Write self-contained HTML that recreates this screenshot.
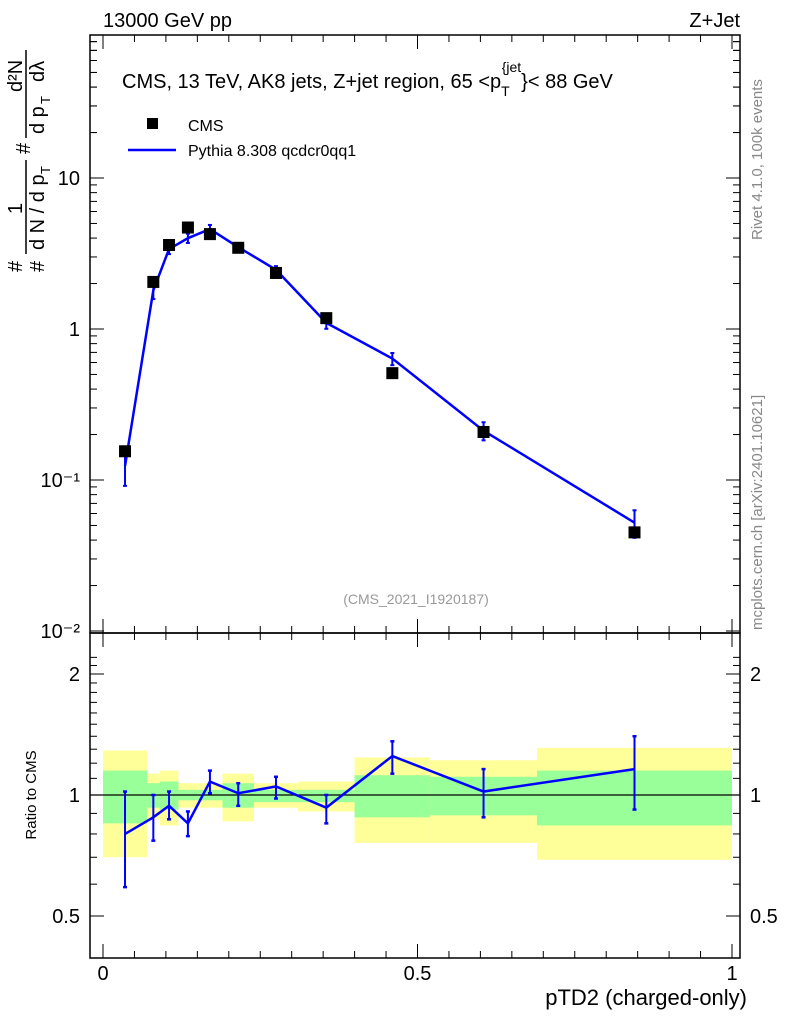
<!DOCTYPE html>
<html><head><meta charset="utf-8"><style>
body{margin:0;background:#fff}
svg{display:block;font-family:"Liberation Sans",Arial,sans-serif}
</style></head><body>
<svg id="c" width="786" height="1024" viewBox="0 0 786 1024"></svg>
<script>
const edges=[0,0.07,0.09,0.12,0.15,0.19,0.24,0.31,0.40,0.52,0.69,1.0];
const xCenters=[0.035,0.08,0.105,0.135,0.17,0.215,0.275,0.355,0.46,0.605,0.845];
const cmsVals=[0.155,2.05,3.6,4.7,4.25,3.45,2.35,1.18,0.51,0.208,0.045];
const ratioVals=[0.80,0.88,0.94,0.85,1.08,1.01,1.05,0.93,1.25,1.02,1.16];
const ratioHi=[1.02,1.0,1.02,0.91,1.15,1.07,1.11,1.0,1.36,1.16,1.40];
const ratioLo=[0.59,0.77,0.87,0.79,1.01,0.94,0.98,0.85,1.13,0.88,0.92];
const yellowHi=[1.29,1.13,1.15,1.07,1.07,1.13,1.07,1.08,1.24,1.22,1.31];
const yellowLo=[0.70,0.87,0.84,0.93,0.93,0.86,0.93,0.91,0.76,0.76,0.69];
const greenHi=[1.15,1.07,1.08,1.03,1.03,1.07,1.03,1.03,1.12,1.11,1.15];
const greenLo=[0.85,0.93,0.92,0.97,0.97,0.93,0.96,0.96,0.88,0.89,0.84];
const yTicksMain=[0.01,0.1,1,10];
const xTickVals=[0,0.5,1];
const ratioTicks=[0.5,1,2];

const NS="http://www.w3.org/2000/svg";
const svg=document.getElementById('c');
function el(t,a,p){const e=document.createElementNS(NS,t);for(const k in a)e.setAttribute(k,a[k]);(p||svg).appendChild(e);return e;}
const L=90,R=740,T=35,MB=633,RB=958;
const X=v=>103+629*v;
const Y=v=>329-151*Math.log10(v);
const YR=r=>795-121*Math.log2(r);

for(let i=0;i<xCenters.length;i++){
  let e=el('rect',{x:X(edges[i]),y:YR(yellowHi[i]),width:X(edges[i+1])-X(edges[i]),height:YR(yellowLo[i])-YR(yellowHi[i]),fill:'#ffff99'});
  
  
  let g=el('rect',{x:X(edges[i]),y:YR(greenHi[i]),width:X(edges[i+1])-X(edges[i]),height:YR(greenLo[i])-YR(greenHi[i]),fill:'#99ff99'});
  
  
}
el('line',{x1:L,x2:R,y1:YR(1),y2:YR(1),stroke:'#000','stroke-width':1.2});

el('rect',{x:L,y:T,width:R-L,height:MB-T,fill:'none',stroke:'#000','stroke-width':1.5});
el('rect',{x:L,y:MB,width:R-L,height:RB-MB,fill:'none',stroke:'#000','stroke-width':1.5});

for(let d=-2;d<=1;d++){
  for(let m=1;m<10;m++){
    const v=m*Math.pow(10,d); const y=Y(v);
    if(y<T||y>MB) continue;
    const len=m==1?14:7;
    el('line',{x1:L,x2:L+len,y1:y,y2:y,stroke:'#000'});
    el('line',{x1:R,x2:R-len,y1:y,y2:y,stroke:'#000'});
  }
}
for(let m=2;m<10;m++){const y=Y(10*m);if(y>T){el('line',{x1:L,x2:L+7,y1:y,y2:y,stroke:'#000'});el('line',{x1:R,x2:R-7,y1:y,y2:y,stroke:'#000'});}}
const ylab=['10\u207B\u00B2','10\u207B\u00B9','1','10'];
yTicksMain.forEach((v,i)=>{
  const t=el('text',{x:80,y:Y(v)+7,'text-anchor':'end','font-size':20});
  t.textContent=ylab[i];
  
  
});
for(let r=0.5;r<=2.3;r+=0.1){
  const y=YR(r); if(y<MB||y>RB) continue;
  const major=ratioTicks.some(t=>Math.abs(t-r)<1e-6);
  const len=major?14:7;
  el('line',{x1:L,x2:L+len,y1:y,y2:y,stroke:'#000'});
  el('line',{x1:R,x2:R-len,y1:y,y2:y,stroke:'#000'});
}
ratioTicks.forEach(v=>{
  const a=el('text',{x:80,y:YR(v)+7,'text-anchor':'end','font-size':20});a.textContent=String(v);
  
  
  const b=el('text',{x:750,y:YR(v)+7,'font-size':20});b.textContent=String(v);
  
  
});
for(let i=0;i<=20;i++){
  const v=i*0.05;const x=X(v);const len=i%10==0?14:7;
  el('line',{x1:x,x2:x,y1:RB,y2:RB-len,stroke:'#000'});
  el('line',{x1:x,x2:x,y1:MB,y2:MB+len,stroke:'#000'});
  el('line',{x1:x,x2:x,y1:MB,y2:MB-len,stroke:'#000'});
  el('line',{x1:x,x2:x,y1:T,y2:T+len,stroke:'#000'});
}
xTickVals.forEach(v=>{
  const t=el('text',{x:X(v),y:980,'text-anchor':'middle','font-size':20});t.textContent=String(v);
  
  
});

const mcVals=cmsVals.map((c,i)=>c*ratioVals[i]);
let pts=xCenters.map((x,i)=>X(x)+','+Y(mcVals[i])).join(' ');
let ml=el('polyline',{points:pts,fill:'none',stroke:'#0000ff','stroke-width':2.5});


xCenters.forEach((x,i)=>{
  const hi=cmsVals[i]*ratioHi[i],lo=cmsVals[i]*ratioLo[i];
  el('line',{x1:X(x),x2:X(x),y1:Y(hi),y2:Y(lo),stroke:'#0000ff','stroke-width':2});
  el('line',{x1:X(x)-2,x2:X(x)+2,y1:Y(hi),y2:Y(hi),stroke:'#0000ff','stroke-width':2});
  el('line',{x1:X(x)-2,x2:X(x)+2,y1:Y(lo),y2:Y(lo),stroke:'#0000ff','stroke-width':2});
});
xCenters.forEach((x,i)=>{
  const r=el('rect',{x:X(x)-6,y:Y(cmsVals[i])-6,width:12,height:12,fill:'#000'});
  
  
});
pts=xCenters.map((x,i)=>X(x)+','+YR(ratioVals[i])).join(' ');
let rl=el('polyline',{points:pts,fill:'none',stroke:'#0000ff','stroke-width':2.5});


xCenters.forEach((x,i)=>{
  const yh=YR(ratioHi[i]),yl=Math.min(YR(ratioLo[i]),RB);
  el('line',{x1:X(x),x2:X(x),y1:yh,y2:yl,stroke:'#0000ff','stroke-width':2});
  el('line',{x1:X(x)-2,x2:X(x)+2,y1:yh,y2:yh,stroke:'#0000ff','stroke-width':2.5});
  el('line',{x1:X(x)-2,x2:X(x)+2,y1:yl,y2:yl,stroke:'#0000ff','stroke-width':2.5});
});
</script>
<svg width="786" height="1024" style="position:absolute;left:0;top:0" font-family="Liberation Sans, Arial, sans-serif">
<text x="103" y="27" font-size="20">13000 GeV pp</text>
<text x="740" y="27" font-size="20" text-anchor="end">Z+Jet</text>
<text x="122" y="88" font-size="20">CMS, 13 TeV, AK8 jets, Z+jet region, 65 &lt;p<tspan font-size="14" dy="8">T</tspan><tspan font-size="14" dy="-24" dx="-8">{jet</tspan><tspan dy="16">}&lt; 88 GeV</tspan></text>
<rect x="147" y="118" width="11" height="11" fill="#000"/>
<text x="188" y="131" font-size="16">CMS</text>
<line x1="128" x2="176" y1="150" y2="150" stroke="#0000ff" stroke-width="2.5"/>
<text x="188" y="156" font-size="16">Pythia 8.308 qcdcr0qq1</text>
<text x="416" y="604" font-size="14" fill="#999" text-anchor="middle">(CMS_2021_I1920187)</text>
<text x="747" y="1005" font-size="22" text-anchor="end">pTD2 (charged-only)</text>
<text transform="translate(36,795) rotate(-90)" font-size="15" text-anchor="middle">Ratio to CMS</text>
<g transform="translate(44,272) rotate(-90)" font-size="20">
<text x="0" y="0">#</text>
<text x="22" y="0">d N / d p</text>
<text x="98" y="6" font-size="13">T</text>
<text x="118" y="-14" font-size="20">#</text>
<text x="138" y="0">d p</text>
<text x="168" y="6" font-size="13">T</text>
<text x="190" y="0">d&#955;</text>
<line x1="18" x2="112" y1="-18" y2="-18" stroke="#000" stroke-width="1.5"/>
<text x="58" y="-22">1</text>
<line x1="134" x2="222" y1="-18" y2="-18" stroke="#000" stroke-width="1.5"/>
<text x="180" y="-22">d²N</text>
<text x="0" y="-22">#</text>
</g>
<text transform="translate(762,240) rotate(-90)" font-size="15" fill="#888">Rivet 4.1.0,  100k events</text>
<text transform="translate(762,630) rotate(-90)" font-size="15" fill="#888">mcplots.cern.ch [arXiv:2401.10621]</text>
</svg>
</body></html>
